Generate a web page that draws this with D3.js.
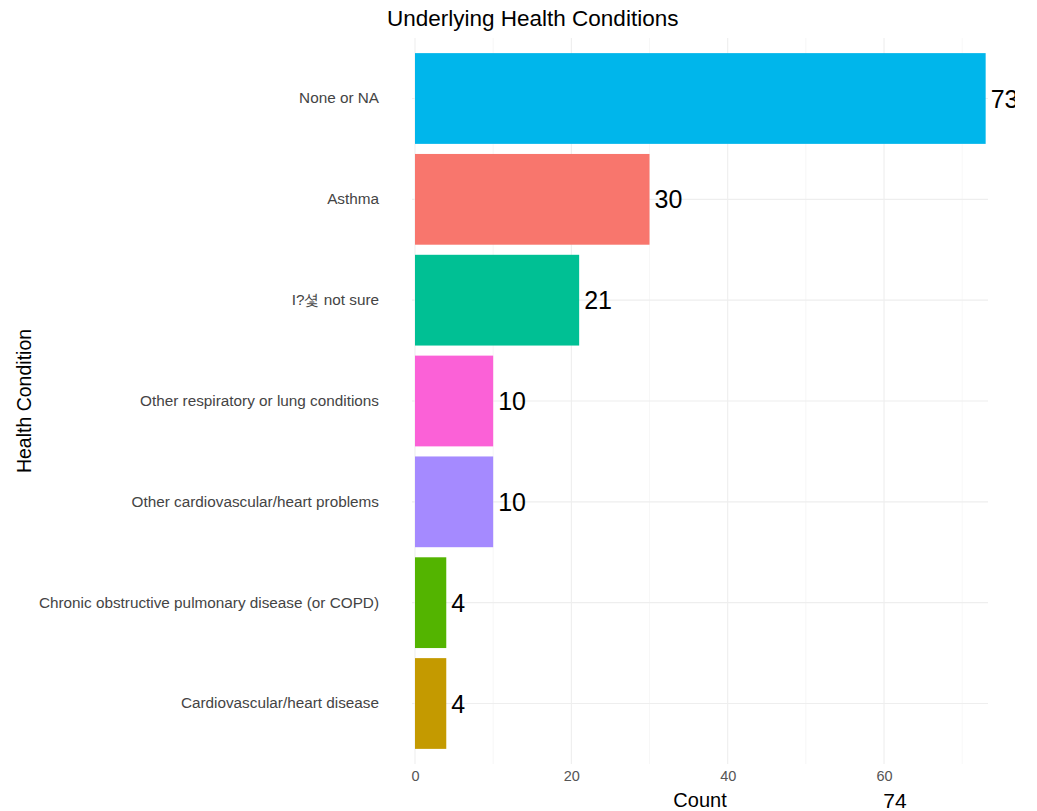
<!DOCTYPE html>
<html>
<head>
<meta charset="utf-8">
<script src="https://cdn.jsdelivr.net/npm/d3@7"></script>
<style>
  body { margin: 0; background: #fff; }
  text { font-family: "Liberation Sans", Arial, sans-serif; }
</style>
</head>
<body>
<div id="chart"></div>
<script>
var width = 1037,
  height = 811;

// data, top to bottom
var conditions = [
  'None or NA',
  'Asthma',
  'I?셫 not sure',
  'Other respiratory or lung conditions',
  'Other cardiovascular/heart problems',
  'Chronic obstructive pulmonary disease (or COPD)',
  'Cardiovascular/heart disease'
];
var counts = [73, 30, 21, 10, 10, 4, 4];
var barColors = ['#00B6EB', '#F8766D', '#00C094', '#FB61D7', '#A58AFF', '#53B400', '#C49A00'];
var xTicks = [0, 20, 40, 60];
var xMinor = [10, 30, 50, 70];

var rows = conditions.map(function (c, i) {
  return { name: c, value: counts[i], color: barColors[i] };
});

var x = d3.scaleLinear()
  .domain([0, 73.3])
  .range([415, 988]);

var y = d3.scaleBand()
  .domain(conditions)
  .range([38, 764])
  .paddingInner(0.1)
  .paddingOuter(0.15);

var svg = d3.select('#chart')
  .append('svg')
  .attr('width', width)
  .attr('height', height);

svg.append('defs')
  .append('clipPath')
  .attr('id', 'clip')
  .append('rect')
  .attr('x', 0)
  .attr('y', 0)
  .attr('width', 1015)
  .attr('height', height);

// grid
var grid = svg.append('g').attr('class', 'grid');

grid.selectAll('.minor')
  .data(xMinor)
  .enter()
  .append('line')
  .attr('x1', function (d) { return x(d); })
  .attr('x2', function (d) { return x(d); })
  .attr('y1', 38)
  .attr('y2', 764)
  .attr('stroke', '#f3f3f3')
  .attr('stroke-width', 0.7);

grid.selectAll('.major')
  .data(xTicks)
  .enter()
  .append('line')
  .attr('x1', function (d) { return x(d); })
  .attr('x2', function (d) { return x(d); })
  .attr('y1', 38)
  .attr('y2', 764)
  .attr('stroke', '#eeeeee')
  .attr('stroke-width', 1.1);

grid.selectAll('.hline')
  .data(conditions)
  .enter()
  .append('line')
  .attr('x1', 412)
  .attr('x2', 988)
  .attr('y1', function (d) { return y(d) + y.bandwidth() / 2; })
  .attr('y2', function (d) { return y(d) + y.bandwidth() / 2; })
  .attr('stroke', '#eeeeee')
  .attr('stroke-width', 1.1);

// bars
svg.selectAll('.bar')
  .data(rows)
  .enter()
  .append('rect')
  .attr('class', 'bar')
  .attr('x', x(0))
  .attr('y', function (d) { return y(d.name); })
  .attr('width', function (d) { return x(d.value) - x(0); })
  .attr('height', y.bandwidth())
  .attr('fill', function (d) { return d.color; });

// value labels
svg.append('g')
  .attr('clip-path', 'url(#clip)')
  .selectAll('text')
  .data(rows)
  .enter()
  .append('text')
  .attr('x', function (d) { return x(d.value) + 5; })
  .attr('y', function (d) { return y(d.name) + y.bandwidth() / 2; })
  .attr('dy', '0.36em')
  .attr('font-size', 25)
  .attr('fill', '#000')
  .text(function (d) { return d.value; });

// y axis labels
var yAxis = d3.axisLeft(y).tickSize(0).tickPadding(0);
svg.append('g')
  .attr('transform', 'translate(379,0)')
  .call(yAxis)
  .call(function (g) { g.select('.domain').remove(); })
  .selectAll('text')
  .attr('font-size', 15.3)
  .attr('fill', '#444')
  .style('font-family', '"Liberation Sans", Arial, sans-serif');

// x axis labels
var xAxis = d3.axisBottom(x).tickValues(xTicks).tickSize(0).tickPadding(0);
svg.append('g')
  .attr('transform', 'translate(0,771)')
  .call(xAxis)
  .call(function (g) { g.select('.domain').remove(); })
  .selectAll('text')
  .attr('font-size', 14.5)
  .attr('fill', '#555')
  .style('font-family', '"Liberation Sans", Arial, sans-serif');

// titles
svg.append('text')
  .attr('x', 387)
  .attr('y', 26)
  .attr('font-size', 22.5)
  .attr('fill', '#000')
  .text('Underlying Health Conditions');

svg.append('text')
  .attr('x', 700)
  .attr('y', 807)
  .attr('text-anchor', 'middle')
  .attr('font-size', 20)
  .attr('fill', '#000')
  .text('Count');

svg.append('text')
  .attr('x', 895)
  .attr('y', 808)
  .attr('text-anchor', 'middle')
  .attr('font-size', 21)
  .attr('fill', '#000')
  .text('74');

svg.append('text')
  .attr('transform', 'translate(31,401) rotate(-90)')
  .attr('text-anchor', 'middle')
  .attr('font-size', 19.5)
  .attr('fill', '#000')
  .text('Health Condition');
</script>
</body>
</html>
